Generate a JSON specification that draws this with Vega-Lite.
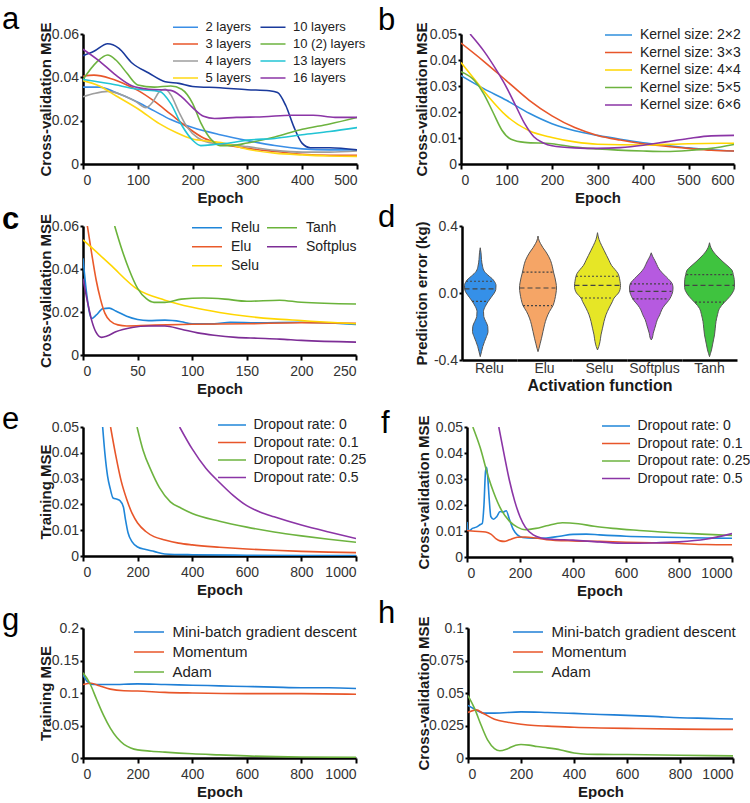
{
"$schema": "https://vega.github.io/schema/vega-lite/v6.json",
"background": "white",
"padding": {"left": 2, "top": 4, "right": 0, "bottom": 0},
"config": {
  "font": "Liberation Sans",
  "view": {"stroke": null},
  "axis": {"domainColor": "#000", "domainWidth": 2.5, "tickColor": "#000", "tickWidth": 2, "grid": false, "labelFont": "Liberation Sans", "labelFontSize": 14, "labelColor": "#333", "titleFont": "Liberation Sans", "titleFontSize": 15, "titleFontWeight": "bold", "titleColor": "#1a1a1a"},
  "axisX": {"domainColor": "#000", "domainWidth": 2.5, "tickSize": 5, "labelPadding": 4, "minExtent": 24, "maxExtent": 24, "titlePadding": 2},
  "axisY": {"domainColor": "#000", "domainWidth": 2.5, "tickSize": 3, "labelPadding": 1.5, "titlePadding": 2},
  "legend": {"padding": 0, "labelFont": "Liberation Sans", "labelColor": "#222", "labelLimit": 400, "symbolType": "stroke", "symbolStrokeWidth": 1.5},
  "line": {"strokeWidth": 1.6, "interpolate": "monotone"}
},
"datasets": {
"a": [
{"s":"2 layers","x":0,"y":0.0355},{"s":"2 layers","x":30,"y":0.0355},{"s":"2 layers","x":60,"y":0.033},{"s":"2 layers","x":100,"y":0.0285},{"s":"2 layers","x":130,"y":0.0245},{"s":"2 layers","x":160,"y":0.0205},{"s":"2 layers","x":200,"y":0.0168},{"s":"2 layers","x":250,"y":0.0135},{"s":"2 layers","x":300,"y":0.0108},{"s":"2 layers","x":350,"y":0.0085},{"s":"2 layers","x":400,"y":0.007},{"s":"2 layers","x":450,"y":0.0065},{"s":"2 layers","x":500,"y":0.0065},
{"s":"3 layers","x":0,"y":0.0405},{"s":"3 layers","x":20,"y":0.041},{"s":"3 layers","x":50,"y":0.0395},{"s":"3 layers","x":80,"y":0.0365},{"s":"3 layers","x":100,"y":0.034},{"s":"3 layers","x":130,"y":0.029},{"s":"3 layers","x":160,"y":0.023},{"s":"3 layers","x":190,"y":0.017},{"s":"3 layers","x":220,"y":0.012},{"s":"3 layers","x":250,"y":0.0095},{"s":"3 layers","x":300,"y":0.0072},{"s":"3 layers","x":350,"y":0.0058},{"s":"3 layers","x":400,"y":0.0045},{"s":"3 layers","x":450,"y":0.004},{"s":"3 layers","x":500,"y":0.004},
{"s":"4 layers","x":0,"y":0.031},{"s":"4 layers","x":20,"y":0.0325},{"s":"4 layers","x":45,"y":0.0335},{"s":"4 layers","x":70,"y":0.032},{"s":"4 layers","x":95,"y":0.029},{"s":"4 layers","x":115,"y":0.026},{"s":"4 layers","x":127,"y":0.0285},{"s":"4 layers","x":140,"y":0.0335},{"s":"4 layers","x":150,"y":0.0345},{"s":"4 layers","x":160,"y":0.032},{"s":"4 layers","x":175,"y":0.024},{"s":"4 layers","x":190,"y":0.017},{"s":"4 layers","x":210,"y":0.012},{"s":"4 layers","x":240,"y":0.0095},{"s":"4 layers","x":270,"y":0.009},{"s":"4 layers","x":300,"y":0.008},{"s":"4 layers","x":350,"y":0.0063},{"s":"4 layers","x":400,"y":0.0055},{"s":"4 layers","x":450,"y":0.0055},{"s":"4 layers","x":500,"y":0.006},
{"s":"5 layers","x":0,"y":0.0385},{"s":"5 layers","x":30,"y":0.036},{"s":"5 layers","x":60,"y":0.0315},{"s":"5 layers","x":100,"y":0.0255},{"s":"5 layers","x":140,"y":0.0185},{"s":"5 layers","x":170,"y":0.0145},{"s":"5 layers","x":200,"y":0.0115},{"s":"5 layers","x":230,"y":0.0105},{"s":"5 layers","x":260,"y":0.0095},{"s":"5 layers","x":300,"y":0.0068},{"s":"5 layers","x":350,"y":0.005},{"s":"5 layers","x":400,"y":0.0042},{"s":"5 layers","x":450,"y":0.0037},{"s":"5 layers","x":500,"y":0.0035},
{"s":"10 layers","x":0,"y":0.05},{"s":"10 layers","x":20,"y":0.052},{"s":"10 layers","x":45,"y":0.0555},{"s":"10 layers","x":65,"y":0.0535},{"s":"10 layers","x":90,"y":0.0465},{"s":"10 layers","x":120,"y":0.042},{"s":"10 layers","x":150,"y":0.038},{"s":"10 layers","x":175,"y":0.0372},{"s":"10 layers","x":200,"y":0.0358},{"s":"10 layers","x":250,"y":0.0352},{"s":"10 layers","x":300,"y":0.0343},{"s":"10 layers","x":340,"y":0.0338},{"s":"10 layers","x":355,"y":0.033},{"s":"10 layers","x":370,"y":0.027},{"s":"10 layers","x":385,"y":0.017},{"s":"10 layers","x":400,"y":0.0095},{"s":"10 layers","x":415,"y":0.0075},{"s":"10 layers","x":450,"y":0.0075},{"s":"10 layers","x":500,"y":0.0065},
{"s":"10 (2) layers","x":0,"y":0.039},{"s":"10 (2) layers","x":25,"y":0.047},{"s":"10 (2) layers","x":45,"y":0.0503},{"s":"10 (2) layers","x":60,"y":0.048},{"s":"10 (2) layers","x":80,"y":0.042},{"s":"10 (2) layers","x":100,"y":0.0365},{"s":"10 (2) layers","x":130,"y":0.0355},{"s":"10 (2) layers","x":160,"y":0.036},{"s":"10 (2) layers","x":180,"y":0.0345},{"s":"10 (2) layers","x":200,"y":0.028},{"s":"10 (2) layers","x":215,"y":0.019},{"s":"10 (2) layers","x":235,"y":0.011},{"s":"10 (2) layers","x":250,"y":0.0085},{"s":"10 (2) layers","x":270,"y":0.0085},{"s":"10 (2) layers","x":300,"y":0.0097},{"s":"10 (2) layers","x":350,"y":0.0125},{"s":"10 (2) layers","x":400,"y":0.016},{"s":"10 (2) layers","x":450,"y":0.0185},{"s":"10 (2) layers","x":500,"y":0.0215},
{"s":"13 layers","x":0,"y":0.039},{"s":"13 layers","x":50,"y":0.037},{"s":"13 layers","x":100,"y":0.0345},{"s":"13 layers","x":140,"y":0.0335},{"s":"13 layers","x":160,"y":0.028},{"s":"13 layers","x":180,"y":0.018},{"s":"13 layers","x":200,"y":0.011},{"s":"13 layers","x":215,"y":0.0085},{"s":"13 layers","x":240,"y":0.009},{"s":"13 layers","x":270,"y":0.0098},{"s":"13 layers","x":300,"y":0.011},{"s":"13 layers","x":350,"y":0.0118},{"s":"13 layers","x":400,"y":0.0135},{"s":"13 layers","x":450,"y":0.015},{"s":"13 layers","x":500,"y":0.0168},
{"s":"16 layers","x":0,"y":0.053},{"s":"16 layers","x":30,"y":0.0475},{"s":"16 layers","x":60,"y":0.041},{"s":"16 layers","x":90,"y":0.036},{"s":"16 layers","x":120,"y":0.0345},{"s":"16 layers","x":160,"y":0.034},{"s":"16 layers","x":180,"y":0.031},{"s":"16 layers","x":200,"y":0.026},{"s":"16 layers","x":220,"y":0.022},{"s":"16 layers","x":240,"y":0.021},{"s":"16 layers","x":280,"y":0.0215},{"s":"16 layers","x":330,"y":0.0218},{"s":"16 layers","x":380,"y":0.0225},{"s":"16 layers","x":420,"y":0.0225},{"s":"16 layers","x":460,"y":0.0215},{"s":"16 layers","x":500,"y":0.0215}
],
"b": [
{"s":"Kernel size: 2×2","x":0,"y":0.034},{"s":"Kernel size: 2×2","x":50,"y":0.029},{"s":"Kernel size: 2×2","x":100,"y":0.0245},{"s":"Kernel size: 2×2","x":150,"y":0.0195},{"s":"Kernel size: 2×2","x":200,"y":0.0155},{"s":"Kernel size: 2×2","x":250,"y":0.0128},{"s":"Kernel size: 2×2","x":300,"y":0.011},{"s":"Kernel size: 2×2","x":350,"y":0.0095},{"s":"Kernel size: 2×2","x":400,"y":0.0082},{"s":"Kernel size: 2×2","x":450,"y":0.0072},{"s":"Kernel size: 2×2","x":500,"y":0.0062},{"s":"Kernel size: 2×2","x":550,"y":0.0055},{"s":"Kernel size: 2×2","x":600,"y":0.005},
{"s":"Kernel size: 3×3","x":0,"y":0.0465},{"s":"Kernel size: 3×3","x":50,"y":0.0395},{"s":"Kernel size: 3×3","x":100,"y":0.032},{"s":"Kernel size: 3×3","x":150,"y":0.0245},{"s":"Kernel size: 3×3","x":200,"y":0.0185},{"s":"Kernel size: 3×3","x":250,"y":0.014},{"s":"Kernel size: 3×3","x":300,"y":0.011},{"s":"Kernel size: 3×3","x":350,"y":0.0092},{"s":"Kernel size: 3×3","x":400,"y":0.0078},{"s":"Kernel size: 3×3","x":450,"y":0.0068},{"s":"Kernel size: 3×3","x":500,"y":0.006},{"s":"Kernel size: 3×3","x":550,"y":0.0053},{"s":"Kernel size: 3×3","x":600,"y":0.005},
{"s":"Kernel size: 4×4","x":0,"y":0.039},{"s":"Kernel size: 4×4","x":30,"y":0.0325},{"s":"Kernel size: 4×4","x":60,"y":0.026},{"s":"Kernel size: 4×4","x":100,"y":0.0185},{"s":"Kernel size: 4×4","x":150,"y":0.0128},{"s":"Kernel size: 4×4","x":200,"y":0.0102},{"s":"Kernel size: 4×4","x":250,"y":0.0085},{"s":"Kernel size: 4×4","x":300,"y":0.0076},{"s":"Kernel size: 4×4","x":400,"y":0.0073},{"s":"Kernel size: 4×4","x":500,"y":0.0078},{"s":"Kernel size: 4×4","x":600,"y":0.008},
{"s":"Kernel size: 5×5","x":0,"y":0.0355},{"s":"Kernel size: 5×5","x":30,"y":0.032},{"s":"Kernel size: 5×5","x":50,"y":0.027},{"s":"Kernel size: 5×5","x":70,"y":0.02},{"s":"Kernel size: 5×5","x":90,"y":0.013},{"s":"Kernel size: 5×5","x":110,"y":0.0095},{"s":"Kernel size: 5×5","x":140,"y":0.0083},{"s":"Kernel size: 5×5","x":200,"y":0.0078},{"s":"Kernel size: 5×5","x":250,"y":0.0065},{"s":"Kernel size: 5×5","x":300,"y":0.0058},{"s":"Kernel size: 5×5","x":400,"y":0.005},{"s":"Kernel size: 5×5","x":450,"y":0.0048},{"s":"Kernel size: 5×5","x":500,"y":0.0052},{"s":"Kernel size: 5×5","x":550,"y":0.006},{"s":"Kernel size: 5×5","x":600,"y":0.0075},
{"s":"Kernel size: 6×6","x":20,"y":0.05},{"s":"Kernel size: 6×6","x":50,"y":0.0435},{"s":"Kernel size: 6×6","x":80,"y":0.0355},{"s":"Kernel size: 6×6","x":100,"y":0.0295},{"s":"Kernel size: 6×6","x":120,"y":0.0225},{"s":"Kernel size: 6×6","x":140,"y":0.0155},{"s":"Kernel size: 6×6","x":160,"y":0.0105},{"s":"Kernel size: 6×6","x":180,"y":0.0082},{"s":"Kernel size: 6×6","x":200,"y":0.007},{"s":"Kernel size: 6×6","x":250,"y":0.0062},{"s":"Kernel size: 6×6","x":300,"y":0.006},{"s":"Kernel size: 6×6","x":350,"y":0.0063},{"s":"Kernel size: 6×6","x":400,"y":0.0072},{"s":"Kernel size: 6×6","x":450,"y":0.0085},{"s":"Kernel size: 6×6","x":500,"y":0.0098},{"s":"Kernel size: 6×6","x":550,"y":0.0108},{"s":"Kernel size: 6×6","x":600,"y":0.011}
],
"c": [
{"s":"Relu","x":0,"y":0.045},{"s":"Relu","x":3,"y":0.03},{"s":"Relu","x":6,"y":0.0195},{"s":"Relu","x":8,"y":0.017},{"s":"Relu","x":12,"y":0.0185},{"s":"Relu","x":18,"y":0.0215},{"s":"Relu","x":24,"y":0.0218},{"s":"Relu","x":30,"y":0.0205},{"s":"Relu","x":40,"y":0.018},{"s":"Relu","x":50,"y":0.0165},{"s":"Relu","x":60,"y":0.016},{"s":"Relu","x":75,"y":0.0162},{"s":"Relu","x":90,"y":0.0155},{"s":"Relu","x":100,"y":0.0145},{"s":"Relu","x":120,"y":0.0145},{"s":"Relu","x":135,"y":0.0152},{"s":"Relu","x":160,"y":0.015},{"s":"Relu","x":200,"y":0.0152},{"s":"Relu","x":250,"y":0.0142},
{"s":"Elu","x":4,"y":0.06},{"s":"Elu","x":8,"y":0.047},{"s":"Elu","x":12,"y":0.035},{"s":"Elu","x":16,"y":0.026},{"s":"Elu","x":20,"y":0.0195},{"s":"Elu","x":25,"y":0.0158},{"s":"Elu","x":32,"y":0.014},{"s":"Elu","x":40,"y":0.0135},{"s":"Elu","x":60,"y":0.0138},{"s":"Elu","x":100,"y":0.0143},{"s":"Elu","x":150,"y":0.0145},{"s":"Elu","x":200,"y":0.015},{"s":"Elu","x":250,"y":0.0148},
{"s":"Selu","x":0,"y":0.0535},{"s":"Selu","x":10,"y":0.049},{"s":"Selu","x":25,"y":0.042},{"s":"Selu","x":50,"y":0.0305},{"s":"Selu","x":75,"y":0.0255},{"s":"Selu","x":100,"y":0.0222},{"s":"Selu","x":125,"y":0.0198},{"s":"Selu","x":150,"y":0.018},{"s":"Selu","x":175,"y":0.0168},{"s":"Selu","x":200,"y":0.016},{"s":"Selu","x":225,"y":0.0152},{"s":"Selu","x":250,"y":0.0145},
{"s":"Tanh","x":29,"y":0.06},{"s":"Tanh","x":35,"y":0.05},{"s":"Tanh","x":42,"y":0.04},{"s":"Tanh","x":50,"y":0.031},{"s":"Tanh","x":58,"y":0.0262},{"s":"Tanh","x":65,"y":0.0245},{"s":"Tanh","x":75,"y":0.0245},{"s":"Tanh","x":90,"y":0.026},{"s":"Tanh","x":110,"y":0.0265},{"s":"Tanh","x":130,"y":0.026},{"s":"Tanh","x":150,"y":0.025},{"s":"Tanh","x":180,"y":0.0255},{"s":"Tanh","x":200,"y":0.0245},{"s":"Tanh","x":250,"y":0.0237},
{"s":"Softplus","x":0,"y":0.0355},{"s":"Softplus","x":4,"y":0.025},{"s":"Softplus","x":8,"y":0.016},{"s":"Softplus","x":12,"y":0.0105},{"s":"Softplus","x":17,"y":0.0082},{"s":"Softplus","x":22,"y":0.0088},{"s":"Softplus","x":30,"y":0.0108},{"s":"Softplus","x":45,"y":0.0128},{"s":"Softplus","x":60,"y":0.0135},{"s":"Softplus","x":75,"y":0.0135},{"s":"Softplus","x":90,"y":0.012},{"s":"Softplus","x":105,"y":0.0103},{"s":"Softplus","x":120,"y":0.0092},{"s":"Softplus","x":140,"y":0.0082},{"s":"Softplus","x":160,"y":0.0078},{"s":"Softplus","x":180,"y":0.0074},{"s":"Softplus","x":200,"y":0.0068},{"s":"Softplus","x":250,"y":0.006}
],
"d": [
{"fn":"Relu","k":"p","v":0.27,"w":0},{"fn":"Relu","k":"p","v":0.24,"w":1.5},{"fn":"Relu","k":"p","v":0.2,"w":2.5},{"fn":"Relu","k":"p","v":0.16,"w":4.5},{"fn":"Relu","k":"p","v":0.13,"w":8},{"fn":"Relu","k":"p","v":0.1,"w":18},{"fn":"Relu","k":"p","v":0.085,"w":24},{"fn":"Relu","k":"p","v":0.07,"w":28},{"fn":"Relu","k":"p","v":0.045,"w":31.5},{"fn":"Relu","k":"p","v":0.02,"w":31},{"fn":"Relu","k":"p","v":0,"w":28},{"fn":"Relu","k":"p","v":-0.025,"w":22},{"fn":"Relu","k":"p","v":-0.05,"w":16},{"fn":"Relu","k":"p","v":-0.08,"w":10},{"fn":"Relu","k":"p","v":-0.11,"w":6.5},{"fn":"Relu","k":"p","v":-0.14,"w":7},{"fn":"Relu","k":"p","v":-0.17,"w":11},{"fn":"Relu","k":"p","v":-0.2,"w":15},{"fn":"Relu","k":"p","v":-0.23,"w":15.5},{"fn":"Relu","k":"p","v":-0.26,"w":12.5},{"fn":"Relu","k":"p","v":-0.29,"w":8.5},{"fn":"Relu","k":"p","v":-0.32,"w":5},{"fn":"Relu","k":"p","v":-0.35,"w":2.5},{"fn":"Relu","k":"p","v":-0.38,"w":0},
{"fn":"Elu","k":"p","v":0.34,"w":0},{"fn":"Elu","k":"p","v":0.31,"w":2.5},{"fn":"Elu","k":"p","v":0.295,"w":5},{"fn":"Elu","k":"p","v":0.27,"w":10},{"fn":"Elu","k":"p","v":0.245,"w":16},{"fn":"Elu","k":"p","v":0.22,"w":21},{"fn":"Elu","k":"p","v":0.195,"w":25},{"fn":"Elu","k":"p","v":0.16,"w":28.5},{"fn":"Elu","k":"p","v":0.125,"w":31},{"fn":"Elu","k":"p","v":0.09,"w":34},{"fn":"Elu","k":"p","v":0.06,"w":36},{"fn":"Elu","k":"p","v":0.03,"w":37},{"fn":"Elu","k":"p","v":0,"w":36},{"fn":"Elu","k":"p","v":-0.04,"w":33.5},{"fn":"Elu","k":"p","v":-0.075,"w":30},{"fn":"Elu","k":"p","v":-0.11,"w":23},{"fn":"Elu","k":"p","v":-0.15,"w":17},{"fn":"Elu","k":"p","v":-0.19,"w":13},{"fn":"Elu","k":"p","v":-0.23,"w":10},{"fn":"Elu","k":"p","v":-0.27,"w":7},{"fn":"Elu","k":"p","v":-0.3,"w":4.5},{"fn":"Elu","k":"p","v":-0.33,"w":2},{"fn":"Elu","k":"p","v":-0.35,"w":0},
{"fn":"Selu","k":"p","v":0.36,"w":0},{"fn":"Selu","k":"p","v":0.32,"w":3},{"fn":"Selu","k":"p","v":0.285,"w":8},{"fn":"Selu","k":"p","v":0.255,"w":13},{"fn":"Selu","k":"p","v":0.225,"w":18},{"fn":"Selu","k":"p","v":0.195,"w":23},{"fn":"Selu","k":"p","v":0.165,"w":28},{"fn":"Selu","k":"p","v":0.14,"w":35},{"fn":"Selu","k":"p","v":0.116,"w":41},{"fn":"Selu","k":"p","v":0.1,"w":43},{"fn":"Selu","k":"p","v":0.07,"w":45},{"fn":"Selu","k":"p","v":0.045,"w":46},{"fn":"Selu","k":"p","v":0.02,"w":45},{"fn":"Selu","k":"p","v":0,"w":42},{"fn":"Selu","k":"p","v":-0.03,"w":33},{"fn":"Selu","k":"p","v":-0.05,"w":30},{"fn":"Selu","k":"p","v":-0.09,"w":23},{"fn":"Selu","k":"p","v":-0.13,"w":17},{"fn":"Selu","k":"p","v":-0.17,"w":13},{"fn":"Selu","k":"p","v":-0.21,"w":10},{"fn":"Selu","k":"p","v":-0.25,"w":7},{"fn":"Selu","k":"p","v":-0.29,"w":5},{"fn":"Selu","k":"p","v":-0.32,"w":2.5},{"fn":"Selu","k":"p","v":-0.34,"w":0},
{"fn":"Softplus","k":"p","v":0.24,"w":0},{"fn":"Softplus","k":"p","v":0.22,"w":2.5},{"fn":"Softplus","k":"p","v":0.195,"w":7},{"fn":"Softplus","k":"p","v":0.17,"w":11},{"fn":"Softplus","k":"p","v":0.146,"w":15},{"fn":"Softplus","k":"p","v":0.12,"w":22},{"fn":"Softplus","k":"p","v":0.096,"w":30},{"fn":"Softplus","k":"p","v":0.075,"w":37},{"fn":"Softplus","k":"p","v":0.055,"w":42},{"fn":"Softplus","k":"p","v":0.03,"w":43.5},{"fn":"Softplus","k":"p","v":0.01,"w":43},{"fn":"Softplus","k":"p","v":-0.01,"w":41},{"fn":"Softplus","k":"p","v":-0.035,"w":37},{"fn":"Softplus","k":"p","v":-0.055,"w":32},{"fn":"Softplus","k":"p","v":-0.072,"w":27},{"fn":"Softplus","k":"p","v":-0.1,"w":21},{"fn":"Softplus","k":"p","v":-0.13,"w":17},{"fn":"Softplus","k":"p","v":-0.16,"w":12},{"fn":"Softplus","k":"p","v":-0.19,"w":9},{"fn":"Softplus","k":"p","v":-0.21,"w":7},{"fn":"Softplus","k":"p","v":-0.24,"w":4},{"fn":"Softplus","k":"p","v":-0.27,"w":2},{"fn":"Softplus","k":"p","v":-0.28,"w":0},
{"fn":"Tanh","k":"p","v":0.3,"w":0},{"fn":"Tanh","k":"p","v":0.27,"w":3},{"fn":"Tanh","k":"p","v":0.245,"w":8},{"fn":"Tanh","k":"p","v":0.215,"w":17},{"fn":"Tanh","k":"p","v":0.186,"w":27},{"fn":"Tanh","k":"p","v":0.16,"w":37},{"fn":"Tanh","k":"p","v":0.136,"w":45},{"fn":"Tanh","k":"p","v":0.11,"w":47.5},{"fn":"Tanh","k":"p","v":0.08,"w":49.5},{"fn":"Tanh","k":"p","v":0.045,"w":50},{"fn":"Tanh","k":"p","v":0.02,"w":49},{"fn":"Tanh","k":"p","v":0.007,"w":47},{"fn":"Tanh","k":"p","v":-0.02,"w":41},{"fn":"Tanh","k":"p","v":-0.055,"w":30},{"fn":"Tanh","k":"p","v":-0.075,"w":24},{"fn":"Tanh","k":"p","v":-0.092,"w":20},{"fn":"Tanh","k":"p","v":-0.13,"w":16},{"fn":"Tanh","k":"p","v":-0.17,"w":13},{"fn":"Tanh","k":"p","v":-0.21,"w":11.5},{"fn":"Tanh","k":"p","v":-0.25,"w":10},{"fn":"Tanh","k":"p","v":-0.28,"w":8},{"fn":"Tanh","k":"p","v":-0.31,"w":6},{"fn":"Tanh","k":"p","v":-0.34,"w":4},{"fn":"Tanh","k":"p","v":-0.36,"w":2},{"fn":"Tanh","k":"p","v":-0.38,"w":0},
{"fn":"Relu","k":"q","v":0.07,"w":27},{"fn":"Relu","k":"m","v":0.025,"w":30},{"fn":"Relu","k":"q","v":-0.05,"w":15},
{"fn":"Elu","k":"q","v":0.125,"w":30},{"fn":"Elu","k":"m","v":0.03,"w":36},{"fn":"Elu","k":"q","v":-0.075,"w":29},
{"fn":"Selu","k":"q","v":0.1,"w":42},{"fn":"Selu","k":"m","v":0.045,"w":45},{"fn":"Selu","k":"q","v":-0.03,"w":32},
{"fn":"Softplus","k":"q","v":0.055,"w":41},{"fn":"Softplus","k":"m","v":0.01,"w":42},{"fn":"Softplus","k":"q","v":-0.035,"w":36},
{"fn":"Tanh","k":"q","v":0.11,"w":46.5},{"fn":"Tanh","k":"m","v":0.045,"w":50},{"fn":"Tanh","k":"q","v":-0.055,"w":29}
],
"e": [
{"s":"Dropout rate: 0","x":72,"y":0.05},{"s":"Dropout rate: 0","x":80,"y":0.04},{"s":"Dropout rate: 0","x":90,"y":0.031},{"s":"Dropout rate: 0","x":100,"y":0.026},{"s":"Dropout rate: 0","x":110,"y":0.0225},{"s":"Dropout rate: 0","x":125,"y":0.022},{"s":"Dropout rate: 0","x":135,"y":0.0215},{"s":"Dropout rate: 0","x":148,"y":0.019},{"s":"Dropout rate: 0","x":155,"y":0.0145},{"s":"Dropout rate: 0","x":165,"y":0.009},{"s":"Dropout rate: 0","x":180,"y":0.0055},{"s":"Dropout rate: 0","x":200,"y":0.0035},{"s":"Dropout rate: 0","x":230,"y":0.0025},{"s":"Dropout rate: 0","x":260,"y":0.0018},{"s":"Dropout rate: 0","x":300,"y":0.0008},{"s":"Dropout rate: 0","x":400,"y":0.0005},{"s":"Dropout rate: 0","x":600,"y":0.0003},{"s":"Dropout rate: 0","x":800,"y":0.0002},{"s":"Dropout rate: 0","x":1000,"y":0.0002},
{"s":"Dropout rate: 0.1","x":101,"y":0.05},{"s":"Dropout rate: 0.1","x":120,"y":0.039},{"s":"Dropout rate: 0.1","x":140,"y":0.029},{"s":"Dropout rate: 0.1","x":160,"y":0.022},{"s":"Dropout rate: 0.1","x":180,"y":0.0165},{"s":"Dropout rate: 0.1","x":200,"y":0.0128},{"s":"Dropout rate: 0.1","x":230,"y":0.0095},{"s":"Dropout rate: 0.1","x":260,"y":0.0075},{"s":"Dropout rate: 0.1","x":300,"y":0.0062},{"s":"Dropout rate: 0.1","x":350,"y":0.005},{"s":"Dropout rate: 0.1","x":400,"y":0.0043},{"s":"Dropout rate: 0.1","x":500,"y":0.0034},{"s":"Dropout rate: 0.1","x":600,"y":0.0027},{"s":"Dropout rate: 0.1","x":700,"y":0.0022},{"s":"Dropout rate: 0.1","x":800,"y":0.0018},{"s":"Dropout rate: 0.1","x":900,"y":0.0015},{"s":"Dropout rate: 0.1","x":1000,"y":0.0013},
{"s":"Dropout rate: 0.25","x":198,"y":0.05},{"s":"Dropout rate: 0.25","x":220,"y":0.041},{"s":"Dropout rate: 0.25","x":250,"y":0.033},{"s":"Dropout rate: 0.25","x":280,"y":0.0265},{"s":"Dropout rate: 0.25","x":320,"y":0.021},{"s":"Dropout rate: 0.25","x":360,"y":0.0185},{"s":"Dropout rate: 0.25","x":400,"y":0.0165},{"s":"Dropout rate: 0.25","x":500,"y":0.0135},{"s":"Dropout rate: 0.25","x":600,"y":0.0112},{"s":"Dropout rate: 0.25","x":700,"y":0.0093},{"s":"Dropout rate: 0.25","x":800,"y":0.0078},{"s":"Dropout rate: 0.25","x":900,"y":0.0065},{"s":"Dropout rate: 0.25","x":1000,"y":0.0053},
{"s":"Dropout rate: 0.5","x":354,"y":0.05},{"s":"Dropout rate: 0.5","x":400,"y":0.0415},{"s":"Dropout rate: 0.5","x":450,"y":0.034},{"s":"Dropout rate: 0.5","x":500,"y":0.0285},{"s":"Dropout rate: 0.5","x":550,"y":0.0235},{"s":"Dropout rate: 0.5","x":600,"y":0.0195},{"s":"Dropout rate: 0.5","x":650,"y":0.017},{"s":"Dropout rate: 0.5","x":700,"y":0.0152},{"s":"Dropout rate: 0.5","x":800,"y":0.012},{"s":"Dropout rate: 0.5","x":900,"y":0.0093},{"s":"Dropout rate: 0.5","x":1000,"y":0.0068}
],
"f": [
{"s":"Dropout rate: 0","x":0,"y":0.0135},{"s":"Dropout rate: 0","x":3,"y":0.0105},{"s":"Dropout rate: 0","x":10,"y":0.0102},{"s":"Dropout rate: 0","x":20,"y":0.011},{"s":"Dropout rate: 0","x":35,"y":0.0115},{"s":"Dropout rate: 0","x":50,"y":0.0125},{"s":"Dropout rate: 0","x":58,"y":0.013},{"s":"Dropout rate: 0","x":64,"y":0.02},{"s":"Dropout rate: 0","x":70,"y":0.033},{"s":"Dropout rate: 0","x":74,"y":0.0345},{"s":"Dropout rate: 0","x":78,"y":0.031},{"s":"Dropout rate: 0","x":84,"y":0.022},{"s":"Dropout rate: 0","x":90,"y":0.0155},{"s":"Dropout rate: 0","x":100,"y":0.0145},{"s":"Dropout rate: 0","x":112,"y":0.0155},{"s":"Dropout rate: 0","x":125,"y":0.0175},{"s":"Dropout rate: 0","x":135,"y":0.0172},{"s":"Dropout rate: 0","x":148,"y":0.0178},{"s":"Dropout rate: 0","x":160,"y":0.0145},{"s":"Dropout rate: 0","x":175,"y":0.0105},{"s":"Dropout rate: 0","x":190,"y":0.0085},{"s":"Dropout rate: 0","x":210,"y":0.0075},{"s":"Dropout rate: 0","x":250,"y":0.0072},{"s":"Dropout rate: 0","x":300,"y":0.0073},{"s":"Dropout rate: 0","x":350,"y":0.008},{"s":"Dropout rate: 0","x":400,"y":0.0087},{"s":"Dropout rate: 0","x":450,"y":0.0088},{"s":"Dropout rate: 0","x":500,"y":0.0085},{"s":"Dropout rate: 0","x":600,"y":0.008},{"s":"Dropout rate: 0","x":700,"y":0.0077},{"s":"Dropout rate: 0","x":800,"y":0.0075},{"s":"Dropout rate: 0","x":900,"y":0.0073},{"s":"Dropout rate: 0","x":1000,"y":0.0072},
{"s":"Dropout rate: 0.1","x":0,"y":0.0102},{"s":"Dropout rate: 0.1","x":30,"y":0.0099},{"s":"Dropout rate: 0.1","x":70,"y":0.0096},{"s":"Dropout rate: 0.1","x":90,"y":0.0088},{"s":"Dropout rate: 0.1","x":110,"y":0.007},{"s":"Dropout rate: 0.1","x":125,"y":0.0062},{"s":"Dropout rate: 0.1","x":140,"y":0.006},{"s":"Dropout rate: 0.1","x":160,"y":0.0066},{"s":"Dropout rate: 0.1","x":190,"y":0.0076},{"s":"Dropout rate: 0.1","x":220,"y":0.0077},{"s":"Dropout rate: 0.1","x":260,"y":0.0073},{"s":"Dropout rate: 0.1","x":300,"y":0.0067},{"s":"Dropout rate: 0.1","x":400,"y":0.0062},{"s":"Dropout rate: 0.1","x":500,"y":0.006},{"s":"Dropout rate: 0.1","x":600,"y":0.0057},{"s":"Dropout rate: 0.1","x":700,"y":0.0055},{"s":"Dropout rate: 0.1","x":800,"y":0.0052},{"s":"Dropout rate: 0.1","x":900,"y":0.0048},{"s":"Dropout rate: 0.1","x":1000,"y":0.0047},
{"s":"Dropout rate: 0.25","x":22,"y":0.05},{"s":"Dropout rate: 0.25","x":50,"y":0.042},{"s":"Dropout rate: 0.25","x":80,"y":0.031},{"s":"Dropout rate: 0.25","x":100,"y":0.025},{"s":"Dropout rate: 0.25","x":130,"y":0.018},{"s":"Dropout rate: 0.25","x":160,"y":0.0138},{"s":"Dropout rate: 0.25","x":190,"y":0.0115},{"s":"Dropout rate: 0.25","x":220,"y":0.0105},{"s":"Dropout rate: 0.25","x":260,"y":0.011},{"s":"Dropout rate: 0.25","x":300,"y":0.012},{"s":"Dropout rate: 0.25","x":360,"y":0.0132},{"s":"Dropout rate: 0.25","x":420,"y":0.0128},{"s":"Dropout rate: 0.25","x":480,"y":0.0118},{"s":"Dropout rate: 0.25","x":550,"y":0.011},{"s":"Dropout rate: 0.25","x":650,"y":0.0102},{"s":"Dropout rate: 0.25","x":750,"y":0.0095},{"s":"Dropout rate: 0.25","x":850,"y":0.009},{"s":"Dropout rate: 0.25","x":950,"y":0.0085},{"s":"Dropout rate: 0.25","x":1000,"y":0.0083},
{"s":"Dropout rate: 0.5","x":120,"y":0.05},{"s":"Dropout rate: 0.5","x":140,"y":0.0395},{"s":"Dropout rate: 0.5","x":160,"y":0.0295},{"s":"Dropout rate: 0.5","x":180,"y":0.0215},{"s":"Dropout rate: 0.5","x":200,"y":0.0155},{"s":"Dropout rate: 0.5","x":220,"y":0.0115},{"s":"Dropout rate: 0.5","x":250,"y":0.0085},{"s":"Dropout rate: 0.5","x":280,"y":0.0073},{"s":"Dropout rate: 0.5","x":320,"y":0.0068},{"s":"Dropout rate: 0.5","x":400,"y":0.0065},{"s":"Dropout rate: 0.5","x":500,"y":0.0058},{"s":"Dropout rate: 0.5","x":600,"y":0.0053},{"s":"Dropout rate: 0.5","x":700,"y":0.0054},{"s":"Dropout rate: 0.5","x":800,"y":0.0058},{"s":"Dropout rate: 0.5","x":900,"y":0.0068},{"s":"Dropout rate: 0.5","x":1000,"y":0.009}
],
"g": [
{"s":"Mini-batch gradient descent","x":0,"y":0.128},{"s":"Mini-batch gradient descent","x":15,"y":0.118},{"s":"Mini-batch gradient descent","x":40,"y":0.113},{"s":"Mini-batch gradient descent","x":100,"y":0.113},{"s":"Mini-batch gradient descent","x":200,"y":0.114},{"s":"Mini-batch gradient descent","x":300,"y":0.113},{"s":"Mini-batch gradient descent","x":400,"y":0.112},{"s":"Mini-batch gradient descent","x":500,"y":0.111},{"s":"Mini-batch gradient descent","x":600,"y":0.11},{"s":"Mini-batch gradient descent","x":700,"y":0.109},{"s":"Mini-batch gradient descent","x":800,"y":0.108},{"s":"Mini-batch gradient descent","x":900,"y":0.108},{"s":"Mini-batch gradient descent","x":1000,"y":0.107},
{"s":"Momentum","x":0,"y":0.113},{"s":"Momentum","x":30,"y":0.115},{"s":"Momentum","x":60,"y":0.111},{"s":"Momentum","x":100,"y":0.106},{"s":"Momentum","x":150,"y":0.1035},{"s":"Momentum","x":200,"y":0.103},{"s":"Momentum","x":300,"y":0.101},{"s":"Momentum","x":400,"y":0.1},{"s":"Momentum","x":600,"y":0.099},{"s":"Momentum","x":800,"y":0.099},{"s":"Momentum","x":1000,"y":0.098},
{"s":"Adam","x":0,"y":0.131},{"s":"Adam","x":25,"y":0.115},{"s":"Adam","x":50,"y":0.09},{"s":"Adam","x":75,"y":0.066},{"s":"Adam","x":100,"y":0.046},{"s":"Adam","x":125,"y":0.031},{"s":"Adam","x":150,"y":0.021},{"s":"Adam","x":175,"y":0.0155},{"s":"Adam","x":200,"y":0.0125},{"s":"Adam","x":250,"y":0.0105},{"s":"Adam","x":300,"y":0.009},{"s":"Adam","x":400,"y":0.0065},{"s":"Adam","x":500,"y":0.0048},{"s":"Adam","x":600,"y":0.0032},{"s":"Adam","x":800,"y":0.0015},{"s":"Adam","x":1000,"y":0.001}
],
"h": [
{"s":"Mini-batch gradient descent","x":0,"y":0.0405},{"s":"Mini-batch gradient descent","x":30,"y":0.037},{"s":"Mini-batch gradient descent","x":60,"y":0.0345},{"s":"Mini-batch gradient descent","x":100,"y":0.0345},{"s":"Mini-batch gradient descent","x":200,"y":0.0355},{"s":"Mini-batch gradient descent","x":300,"y":0.035},{"s":"Mini-batch gradient descent","x":400,"y":0.0343},{"s":"Mini-batch gradient descent","x":500,"y":0.0335},{"s":"Mini-batch gradient descent","x":600,"y":0.0328},{"s":"Mini-batch gradient descent","x":700,"y":0.032},{"s":"Mini-batch gradient descent","x":800,"y":0.031},{"s":"Mini-batch gradient descent","x":900,"y":0.0305},{"s":"Mini-batch gradient descent","x":1000,"y":0.03},
{"s":"Momentum","x":0,"y":0.035},{"s":"Momentum","x":30,"y":0.037},{"s":"Momentum","x":60,"y":0.034},{"s":"Momentum","x":100,"y":0.0298},{"s":"Momentum","x":150,"y":0.0275},{"s":"Momentum","x":200,"y":0.026},{"s":"Momentum","x":250,"y":0.025},{"s":"Momentum","x":300,"y":0.0245},{"s":"Momentum","x":400,"y":0.0236},{"s":"Momentum","x":500,"y":0.0231},{"s":"Momentum","x":600,"y":0.0228},{"s":"Momentum","x":800,"y":0.0222},{"s":"Momentum","x":1000,"y":0.022},
{"s":"Adam","x":0,"y":0.048},{"s":"Adam","x":25,"y":0.038},{"s":"Adam","x":50,"y":0.025},{"s":"Adam","x":75,"y":0.0135},{"s":"Adam","x":100,"y":0.0072},{"s":"Adam","x":120,"y":0.0056},{"s":"Adam","x":150,"y":0.0072},{"s":"Adam","x":180,"y":0.0098},{"s":"Adam","x":200,"y":0.0104},{"s":"Adam","x":230,"y":0.0099},{"s":"Adam","x":260,"y":0.0088},{"s":"Adam","x":300,"y":0.0078},{"s":"Adam","x":350,"y":0.0062},{"s":"Adam","x":400,"y":0.0038},{"s":"Adam","x":450,"y":0.0029},{"s":"Adam","x":500,"y":0.0028},{"s":"Adam","x":600,"y":0.0027},{"s":"Adam","x":800,"y":0.0021},{"s":"Adam","x":1000,"y":0.0016}
]
},
"spacing": 8,
"resolve": {"scale": {"color": "independent", "strokeDash": "independent"}},
"vconcat": [
 {"spacing": -3, "resolve": {"scale": {"color": "independent", "strokeDash": "independent"}},
  "vconcat": [
   {"hconcat": [
     {"width": 274, "height": 130,
      "title": {"text": "a", "anchor": "start", "frame": "group", "orient": "top", "offset": 0, "baseline": "alphabetic", "align": "left", "dx": -81, "dy": 39.5, "fontSize": 31, "fontWeight": "normal", "font": "Liberation Sans", "color": "#000"},
      "data": {"name": "a"},
      "mark": {"type": "line", "interpolate": "monotone", "strokeWidth": 1.6, "clip": true},
      "encoding": {
        "x": {"field": "x", "type": "quantitative", "scale": {"domain": [0, 500], "nice": false}, "axis": {"values": [0,100,200,300,400,500], "format": "d", "title": "Epoch"}},
        "y": {"field": "y", "type": "quantitative", "scale": {"domain": [0, 0.06], "nice": false}, "axis": {"values": [0,0.02,0.04,0.06], "format": ".2~g", "title": "Cross-validation MSE", "minExtent": 28, "maxExtent": 28}},
        "color": {"field": "s", "type": "nominal", "scale": {"domain": ["2 layers","3 layers","4 layers","5 layers","10 layers","10 (2) layers","13 layers","16 layers"], "range": ["#3a8ee6","#e8562a","#9e9e9e","#ffd814","#1a3a9c","#6db33f","#22c4d4","#8b35a6"]},
          "legend": {"title": null, "orient": "none", "legendX": 89, "legendY": -13.5, "columns": 2, "symbolSize": 625, "labelFontSize": 13, "labelOffset": 6.5, "clipHeight": 13, "rowPadding": 3, "columnPadding": 7.5}}
      }},
     {"width": 273, "height": 130,
      "title": {"text": "b", "anchor": "start", "frame": "group", "orient": "top", "offset": 0, "baseline": "alphabetic", "align": "left", "dx": -83, "dy": 39, "fontSize": 31, "fontWeight": "normal", "font": "Liberation Sans", "color": "#000"},
      "data": {"name": "b"},
      "mark": {"type": "line", "interpolate": "monotone", "strokeWidth": 1.6, "clip": true},
      "encoding": {
        "x": {"field": "x", "type": "quantitative", "scale": {"domain": [0, 600], "nice": false}, "axis": {"values": [0,100,200,300,400,500,600], "format": "d", "title": "Epoch"}},
        "y": {"field": "y", "type": "quantitative", "scale": {"domain": [0, 0.05], "nice": false}, "axis": {"values": [0,0.01,0.02,0.03,0.04,0.05], "format": ".2~g", "title": "Cross-validation MSE", "minExtent": 30, "maxExtent": 30}},
        "color": {"field": "s", "type": "nominal", "scale": {"domain": ["Kernel size: 2×2","Kernel size: 3×3","Kernel size: 4×4","Kernel size: 5×5","Kernel size: 6×6"], "range": ["#2f8fdd","#e8562a","#ffd600","#6db33f","#8b35a6"]},
          "legend": {"title": null, "orient": "none", "legendX": 143, "legendY": -6, "symbolSize": 729, "labelFontSize": 14, "labelOffset": 7, "clipHeight": 14, "rowPadding": 3.5}}
      }}
    ], "spacing": 104, "bounds": "flush", "resolve": {"scale": {"color": "independent"}}},
   {"hconcat": [
     {"width": 273, "height": 129,
      "title": {"text": "c", "anchor": "start", "frame": "group", "orient": "top", "offset": 0, "baseline": "alphabetic", "align": "left", "dx": -81, "dy": 47, "fontSize": 31, "fontWeight": "bold", "font": "Liberation Sans", "color": "#000"},
      "data": {"name": "c"},
      "mark": {"type": "line", "interpolate": "monotone", "strokeWidth": 1.6, "clip": true},
      "encoding": {
        "x": {"field": "x", "type": "quantitative", "scale": {"domain": [0, 250], "nice": false}, "axis": {"values": [0,50,100,150,200,250], "format": "d", "title": "Epoch"}},
        "y": {"field": "y", "type": "quantitative", "scale": {"domain": [0, 0.06], "nice": false}, "axis": {"values": [0,0.02,0.04,0.06], "format": ".2~g", "title": "Cross-validation MSE", "minExtent": 28, "maxExtent": 28}},
        "color": {"field": "s", "type": "nominal", "scale": {"domain": ["Relu","Elu","Selu","Tanh","Softplus"], "range": ["#1f86d9","#ea5a2a","#ffd600","#6ab33a","#7d2d96"]},
          "legend": {"title": null, "orient": "none", "legendX": 108, "legendY": -5.3, "columns": 2, "symbolSize": 900, "labelFontSize": 14, "labelOffset": 8, "clipHeight": 14, "rowPadding": 5, "columnPadding": 6}}
      }},
     {"data": {"name": "d"},
      "title": {"text": "d", "anchor": "start", "frame": "group", "orient": "top", "offset": 0, "baseline": "alphabetic", "align": "left", "dx": -84, "dy": 39, "fontSize": 31, "fontWeight": "normal", "font": "Liberation Sans", "color": "#000"},
      "facet": {"column": {"field": "fn", "type": "nominal", "sort": ["Relu","Elu","Selu","Softplus","Tanh"], "title": "Activation function",
        "header": {"labelOrient": "bottom", "titleOrient": "bottom", "labelFontSize": 14, "labelColor": "#333", "labelFont": "Liberation Sans", "labelPadding": 2, "titleFontSize": 16, "titleFontWeight": "bold", "titleFont": "Liberation Sans", "titleColor": "#1a1a1a", "titlePadding": -8}}},
      "spacing": 0,
      "spec": {
        "width": 55, "height": 134,
        "layer": [
          {"transform": [{"filter": "datum.k === 'p'"}],
           "mark": {"type": "area", "orient": "horizontal", "interpolate": "monotone", "stroke": "#555", "strokeWidth": 1},
           "encoding": {
             "y": {"field": "v", "type": "quantitative", "scale": {"domain": [-0.4, 0.4], "nice": false}, "axis": {"values": [-0.4,-0.2,0,0.2,0.4], "labelExpr": "replace(format(datum.value, '.1f'), '−', '-')", "title": "Prediction error (kg)", "minExtent": 31, "maxExtent": 31}},
             "x": {"field": "w", "type": "quantitative", "stack": "center", "impute": null, "scale": {"domain": [-2.5, 52.5], "nice": false, "zero": false}, "axis": {"labels": false, "ticks": false, "grid": false, "title": null, "minExtent": 0, "maxExtent": 0}},
             "color": {"field": "fn", "type": "nominal", "scale": {"domain": ["Relu","Elu","Selu","Softplus","Tanh"], "range": ["#3590e8","#f5a566","#e6e626","#b65ae0","#3fc33f"]}, "legend": null}
           }},
          {"transform": [{"filter": "datum.k !== 'p'"}, {"stack": "w", "groupby": ["fn", "v", "k"], "offset": "center", "as": ["w0", "w1"]}],
           "mark": {"type": "rule", "color": "#444", "strokeWidth": 1.2},
           "encoding": {
             "y": {"field": "v", "type": "quantitative"},
             "x": {"field": "w0", "type": "quantitative"},
             "x2": {"field": "w1"},
             "strokeDash": {"field": "k", "type": "nominal", "scale": {"domain": ["q","m"], "range": [[2,2],[5,3]]}, "legend": null}
           }}
        ]
      }}
    ], "spacing": 106, "bounds": "flush", "resolve": {"scale": {"color": "independent", "strokeDash": "independent"}}}
  ]},
 {"spacing": -1, "resolve": {"scale": {"color": "independent"}},
  "vconcat": [
   {"hconcat": [
     {"width": 273, "height": 129,
      "title": {"text": "e", "anchor": "start", "frame": "group", "orient": "top", "offset": 0, "baseline": "alphabetic", "align": "left", "dx": -81, "dy": 42, "fontSize": 31, "fontWeight": "normal", "font": "Liberation Sans", "color": "#000"},
      "data": {"name": "e"},
      "mark": {"type": "line", "interpolate": "monotone", "strokeWidth": 1.6, "clip": true},
      "encoding": {
        "x": {"field": "x", "type": "quantitative", "scale": {"domain": [0, 1000], "nice": false}, "axis": {"values": [0,200,400,600,800,1000], "format": "d", "title": "Epoch"}},
        "y": {"field": "y", "type": "quantitative", "scale": {"domain": [0, 0.05], "nice": false}, "axis": {"values": [0,0.01,0.02,0.03,0.04,0.05], "format": ".2~g", "title": "Training MSE", "minExtent": 28, "maxExtent": 28}},
        "color": {"field": "s", "type": "nominal", "scale": {"domain": ["Dropout rate: 0","Dropout rate: 0.1","Dropout rate: 0.25","Dropout rate: 0.5"], "range": ["#1f86d9","#e8562a","#6db33f","#8b35a6"]},
          "legend": {"title": null, "orient": "none", "legendX": 134, "legendY": -9, "symbolSize": 784, "labelFontSize": 14, "labelOffset": 6.5, "clipHeight": 14, "rowPadding": 3.5}}
      }},
     {"width": 265, "height": 130,
      "title": {"text": "f", "anchor": "start", "frame": "group", "orient": "top", "offset": 0, "baseline": "alphabetic", "align": "left", "dx": -86, "dy": 49, "fontSize": 31, "fontWeight": "normal", "font": "Liberation Sans", "color": "#000"},
      "data": {"name": "f"},
      "mark": {"type": "line", "interpolate": "monotone", "strokeWidth": 1.6, "clip": true},
      "encoding": {
        "x": {"field": "x", "type": "quantitative", "scale": {"domain": [0, 1000], "nice": false}, "axis": {"values": [0,200,400,600,800,1000], "format": "d", "title": "Epoch"}},
        "y": {"field": "y", "type": "quantitative", "scale": {"domain": [0, 0.05], "nice": false}, "axis": {"values": [0,0.01,0.02,0.03,0.04,0.05], "format": ".2~g", "title": "Cross-validation MSE", "minExtent": 34, "maxExtent": 34}},
        "color": {"field": "s", "type": "nominal", "scale": {"domain": ["Dropout rate: 0","Dropout rate: 0.1","Dropout rate: 0.25","Dropout rate: 0.5"], "range": ["#1f86d9","#e8562a","#6db33f","#8b35a6"]},
          "legend": {"title": null, "orient": "none", "legendX": 134, "legendY": -8, "symbolSize": 784, "labelFontSize": 14, "labelOffset": 6.5, "clipHeight": 14, "rowPadding": 3.5}}
      }}
    ], "spacing": 111, "bounds": "flush", "resolve": {"scale": {"color": "independent"}}},
   {"hconcat": [
     {"width": 273, "height": 130,
      "title": {"text": "g", "anchor": "start", "frame": "group", "orient": "top", "offset": 0, "baseline": "alphabetic", "align": "left", "dx": -81, "dy": 40, "fontSize": 31, "fontWeight": "normal", "font": "Liberation Sans", "color": "#000"},
      "data": {"name": "g"},
      "mark": {"type": "line", "interpolate": "monotone", "strokeWidth": 1.6, "clip": true},
      "encoding": {
        "x": {"field": "x", "type": "quantitative", "scale": {"domain": [0, 1000], "nice": false}, "axis": {"values": [0,200,400,600,800,1000], "format": "d", "title": "Epoch"}},
        "y": {"field": "y", "type": "quantitative", "scale": {"domain": [0, 0.2], "nice": false}, "axis": {"values": [0,0.05,0.1,0.15,0.2], "format": ".2~g", "title": "Training MSE", "minExtent": 28, "maxExtent": 28}},
        "color": {"field": "s", "type": "nominal", "scale": {"domain": ["Mini-batch gradient descent","Momentum","Adam"], "range": ["#1f7fd6","#e8562a","#6db33f"]},
          "legend": {"title": null, "orient": "none", "legendX": 50, "legendY": -3.5, "symbolSize": 900, "labelFontSize": 15, "labelOffset": 7.5, "clipHeight": 15, "rowPadding": 4}}
      }},
     {"width": 265, "height": 130,
      "title": {"text": "h", "anchor": "start", "frame": "group", "orient": "top", "offset": 0, "baseline": "alphabetic", "align": "left", "dx": -90, "dy": 38, "fontSize": 31, "fontWeight": "normal", "font": "Liberation Sans", "color": "#000"},
      "data": {"name": "h"},
      "mark": {"type": "line", "interpolate": "monotone", "strokeWidth": 1.6, "clip": true},
      "encoding": {
        "x": {"field": "x", "type": "quantitative", "scale": {"domain": [0, 1000], "nice": false}, "axis": {"values": [0,200,400,600,800,1000], "format": "d", "title": "Epoch"}},
        "y": {"field": "y", "type": "quantitative", "scale": {"domain": [0, 0.1], "nice": false}, "axis": {"values": [0,0.025,0.05,0.075,0.1], "format": ".2~g", "title": "Cross-validation MSE", "minExtent": 35, "maxExtent": 35}},
        "color": {"field": "s", "type": "nominal", "scale": {"domain": ["Mini-batch gradient descent","Momentum","Adam"], "range": ["#1f7fd6","#e8562a","#6db33f"]},
          "legend": {"title": null, "orient": "none", "legendX": 44, "legendY": -3.5, "symbolSize": 900, "labelFontSize": 15, "labelOffset": 7.5, "clipHeight": 15, "rowPadding": 4}}
      }}
    ], "spacing": 112, "bounds": "flush", "resolve": {"scale": {"color": "independent"}}}
  ]}
]
}
